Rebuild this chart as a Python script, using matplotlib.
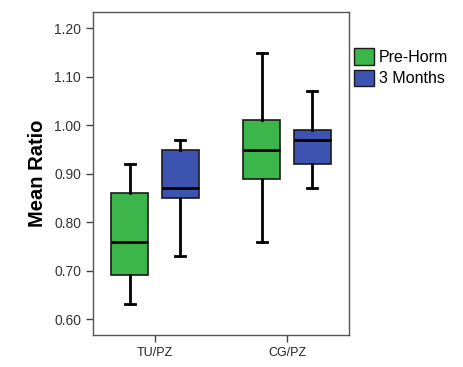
import matplotlib
matplotlib.use("Agg")
import matplotlib.pyplot as plt
from matplotlib.patches import Patch

plt.rcParams["font.family"] = ["Liberation Sans", "DejaVu Sans"]

categories = ["TU/PZ", "CG/PZ"]
series = ["Pre-Horm", "3 Months"]
# stats per series per category: (whislo, q1, med, q3, whishi)
pre_horm = [(0.63, 0.69, 0.76, 0.86, 0.92), (0.76, 0.89, 0.95, 1.01, 1.15)]
three_months = [(0.73, 0.85, 0.87, 0.95, 0.97), (0.87, 0.92, 0.97, 0.99, 1.07)]
yticks = [0.60, 0.70, 0.80, 0.90, 1.00, 1.10, 1.20]
colors = ["#3cb54a", "#3d53b0"]

fig = plt.figure(figsize=(4.64, 3.67), dpi=100)
ax = fig.add_axes([93/464, 1-335/367, (349-93)/464, (335-12)/367])

offset = 0.19
width = 0.28
for si, (data, col) in enumerate(zip([pre_horm, three_months], colors)):
    stats = []
    for d in data:
        lo, q1, med, q3, hi = d
        stats.append(dict(whislo=lo, q1=q1, med=med, q3=q3, whishi=hi, fliers=[]))
    pos = [i + (-offset if si == 0 else offset) for i in range(len(categories))]
    ax.bxp(stats, positions=pos, widths=width, patch_artist=True, showfliers=False,
           boxprops=dict(facecolor=col, edgecolor="#1a1a1a", linewidth=1.2),
           medianprops=dict(color="black", linewidth=2),
           whiskerprops=dict(color="black", linewidth=2),
           capprops=dict(color="black", linewidth=2),
           capwidths=0.075)

ax.set_xlim(-0.47, 1.47)
ax.set_ylim(0.567, 1.234)
ax.set_xticks(range(len(categories)))
ax.set_xticklabels(categories, fontsize=9, color="#222222")
ax.set_yticks(yticks)
ax.set_yticklabels([f"{v:.2f}" for v in yticks], fontsize=10, color="#333333")
ax.tick_params(axis="both", direction="out", length=5, width=1, color="#444444")
for s in ax.spines.values():
    s.set_color("#555555")
    s.set_linewidth(1)
ax.set_ylabel("Mean Ratio", fontsize=14.5, fontweight="bold", labelpad=5)

handles = [Patch(facecolor=c, edgecolor="#1a1a1a", label=l) for c, l in zip(colors, series)]
leg = fig.legend(handles=handles, loc="upper left", bbox_to_anchor=(348/464, 1-42/367),
                 frameon=False, fontsize=11.5, handlelength=1.25, handleheight=1.2,
                 handletextpad=0.3, labelspacing=0.3, borderaxespad=0)
fig.savefig("out.png", dpi=100)
